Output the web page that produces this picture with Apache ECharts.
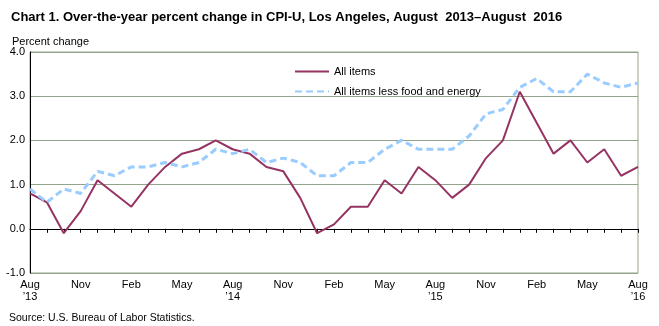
<!DOCTYPE html>
<html><head><meta charset="utf-8">
<script src="https://cdn.jsdelivr.net/npm/echarts@6/dist/echarts.min.js"></script>
<style>html,body{margin:0;padding:0;background:#fff}#c{width:659px;height:326px}</style>
</head><body><div id="c"></div>
<script>
const months = ["Aug","Sep","Oct","Nov","Dec","Jan","Feb","Mar","Apr","May","Jun","Jul",
 "Aug","Sep","Oct","Nov","Dec","Jan","Feb","Mar","Apr","May","Jun","Jul",
 "Aug","Sep","Oct","Nov","Dec","Jan","Feb","Mar","Apr","May","Jun","Jul","Aug"];
const yearLabels = {0:"\u201913",12:"\u201914",24:"\u201915",36:"\u201916"};
const allItems = [0.8,0.6,-0.1,0.4,1.1,0.8,0.5,1.0,1.4,1.7,1.8,2.0,
 1.8,1.7,1.4,1.3,0.7,-0.1,0.1,0.5,0.5,1.1,0.8,1.4,
 1.1,0.7,1.0,1.6,2.0,3.1,2.4,1.7,2.0,1.5,1.8,1.2,1.4];
const core = [0.9,0.6,0.9,0.8,1.3,1.2,1.4,1.4,1.5,1.4,1.5,1.8,
 1.7,1.8,1.5,1.6,1.5,1.2,1.2,1.5,1.5,1.8,2.0,1.8,
 1.8,1.8,2.1,2.6,2.7,3.2,3.4,3.1,3.1,3.5,3.3,3.2,3.3];
const yTicks = [-1,0,1,2,3,4];
const cats = months.map((m,i)=> yearLabels[i] ? m + "\n" + yearLabels[i] : m);
const grid = '#94a38c';
const chart = echarts.init(document.getElementById('c'));
chart.setOption({
  animation:false,
  textStyle:{fontFamily:'Liberation Sans, Arial, sans-serif'},
  title:[{text:'Chart 1. Over-the-year percent change in CPI-U, Los Angeles, August  2013\u2013August  2016',left:6,top:6,
    textStyle:{fontSize:13,fontWeight:'bold',color:'#000',fontFamily:'Liberation Sans, Arial, sans-serif'}},
   {text:'Percent change',left:7,top:31,textStyle:{fontSize:11,fontWeight:'normal',color:'#000'}},
   {text:'Source: U.S. Bureau of Labor Statistics.',left:4,top:308,textStyle:{fontSize:10.5,fontWeight:'normal',color:'#000'}}],
  legend:{orient:'vertical',left:289,top:61,itemGap:9,itemWidth:34,itemHeight:10,
    itemStyle:{opacity:0},
    textStyle:{fontSize:11,color:'#000'},
    data:['All items','All items less food and energy']},
  grid:{left:30,right:21,top:52,bottom:53,show:true,borderColor:grid,borderWidth:1},
  xAxis:{type:'category',data:cats,boundaryGap:false,
    axisLine:{lineStyle:{color:'#000',width:1}},
    axisTick:{show:true,interval:0,length:4,lineStyle:{color:'#000'}},
    axisLabel:{interval:2,fontSize:11,color:'#000',lineHeight:12,margin:6},
    splitLine:{show:false}},
  yAxis:{type:'value',min:-1,max:4,interval:1,
    axisLine:{show:true,lineStyle:{color:'#000'}},axisTick:{show:false},
    axisLabel:{formatter:v=>v.toFixed(1),fontSize:11,color:'#000',margin:5},
    splitLine:{lineStyle:{color:grid,width:1}}},
  series:[
    {name:'All items',type:'line',data:allItems,symbol:'none',
     lineStyle:{color:'#953463',width:2},itemStyle:{color:'#953463'}},
    {name:'All items less food and energy',type:'line',data:core,symbol:'none',
     lineStyle:{color:'#99ccff',width:3,type:[7,4]},itemStyle:{color:'#99ccff'}}
  ]
});
</script></body></html>
